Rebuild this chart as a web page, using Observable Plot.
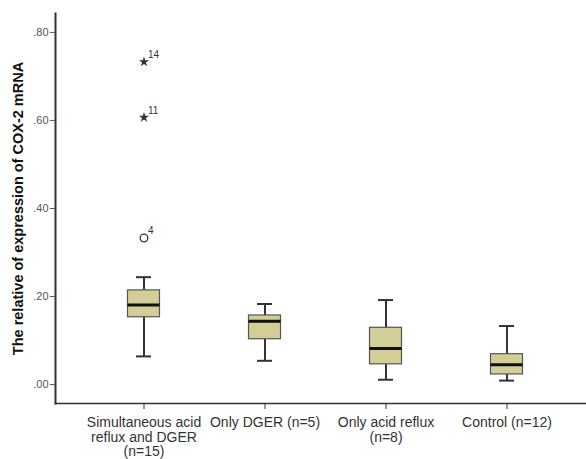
<!DOCTYPE html>
<html><head><meta charset="utf-8">
<script src="https://cdn.jsdelivr.net/npm/d3@7"></script>
<script src="https://cdn.jsdelivr.net/npm/@observablehq/plot@0.6"></script>
<style>body{margin:0;background:#fff}</style>
</head><body><div id="chart"></div>
<script>
const groups = ["Simultaneous acid reflux and DGER (n=15)", "Only DGER (n=5)", "Only acid reflux (n=8)", "Control (n=12)"];
const tickLabels = ["Simultaneous acid\nreflux and DGER\n(n=15)", "Only DGER (n=5)", "Only acid reflux\n(n=8)", "Control (n=12)"];
const lowerWhisker = [0.064, 0.054, 0.011, 0.009];
const q1 = [0.153, 0.103, 0.046, 0.023];
const median = [0.181, 0.144, 0.082, 0.045];
const q3 = [0.214, 0.157, 0.129, 0.069];
const upperWhisker = [0.244, 0.183, 0.192, 0.133];
const outlierGroup = [groups[0], groups[0], groups[0]];
const outlierValue = [0.733, 0.607, 0.333];
const outlierCase = ["14", "11", "4"];
const outlierKind = ["extreme", "extreme", "outlier"];
const yTicks = [0, 0.2, 0.4, 0.6, 0.8];
const yLabel = "The relative of expression of COX-2 mRNA";

const boxes = groups.map((g, i) => ({g, lo: lowerWhisker[i], q1: q1[i], med: median[i], q3: q3[i], hi: upperWhisker[i]}));
const outliers = outlierValue.map((v, i) => ({g: outlierGroup[i], v, label: outlierCase[i], kind: outlierKind[i]}));
const labelOf = new Map(groups.map((g, i) => [g, tickLabels[i]]));

const font = "Liberation Sans, Arial, Helvetica, sans-serif";
const ink = "#333";
const boxInset = 44.5;
const capInset = 53;

const chart = Plot.plot({
  width: 586,
  height: 459,
  marginLeft: 55,
  marginRight: 0,
  marginTop: 13,
  marginBottom: 56,
  style: {fontFamily: font, background: "#fff", overflow: "visible"},
  x: {domain: groups, range: [82, 568], padding: 0},
  y: {domain: [-0.043, 0.843]},
  marks: [
    Plot.ruleX(boxes, {x: "g", y1: "lo", y2: "q1", stroke: ink, strokeWidth: 2}),
    Plot.ruleX(boxes, {x: "g", y1: "q3", y2: "hi", stroke: ink, strokeWidth: 2}),
    Plot.tickY(boxes, {x: "g", y: "lo", stroke: ink, strokeWidth: 2, insetLeft: capInset, insetRight: capInset}),
    Plot.tickY(boxes, {x: "g", y: "hi", stroke: ink, strokeWidth: 2, insetLeft: capInset, insetRight: capInset}),
    Plot.barY(boxes, {x: "g", y1: "q1", y2: "q3", fill: "#d3ce97", stroke: "#555", strokeWidth: 1.2, insetLeft: boxInset, insetRight: boxInset}),
    Plot.tickY(boxes, {x: "g", y: "med", stroke: "#111", strokeWidth: 3, insetLeft: boxInset, insetRight: boxInset}),
    Plot.dot(outliers.filter(d => d.kind === "extreme"), {x: "g", y: "v", symbol: "star", r: 3.2, fill: ink, stroke: "none"}),
    Plot.dot(outliers.filter(d => d.kind === "outlier"), {x: "g", y: "v", symbol: "circle", r: 3.8, fill: "none", stroke: ink, strokeWidth: 1.3}),
    Plot.text(outliers, {x: "g", y: "v", text: "label", dx: 4, dy: -7, textAnchor: "start", fontSize: 10, fill: ink}),
    Plot.frame({anchor: "left", stroke: ink, strokeWidth: 2}),
    Plot.frame({anchor: "bottom", stroke: ink, strokeWidth: 1.5}),
    Plot.axisY({ticks: yTicks, tickFormat: d => d3.format(".2f")(d).replace(/^0/, ""), tickSize: 5, tickPadding: 2, fontSize: 11, label: null, color: "#555"}),
    Plot.axisX({tickSize: 6, tickPadding: 7, fontSize: 14, tickFormat: d => labelOf.get(d), label: null, color: ink, lineHeight: 1.05}),
    Plot.text([yLabel], {frameAnchor: "left", rotate: -90, dx: -37, textAnchor: "middle", lineAnchor: "middle", fontSize: 14.5, fontWeight: "bold", fill: "#111"})
  ]
});
document.getElementById("chart").appendChild(chart);
</script>
</body></html>
